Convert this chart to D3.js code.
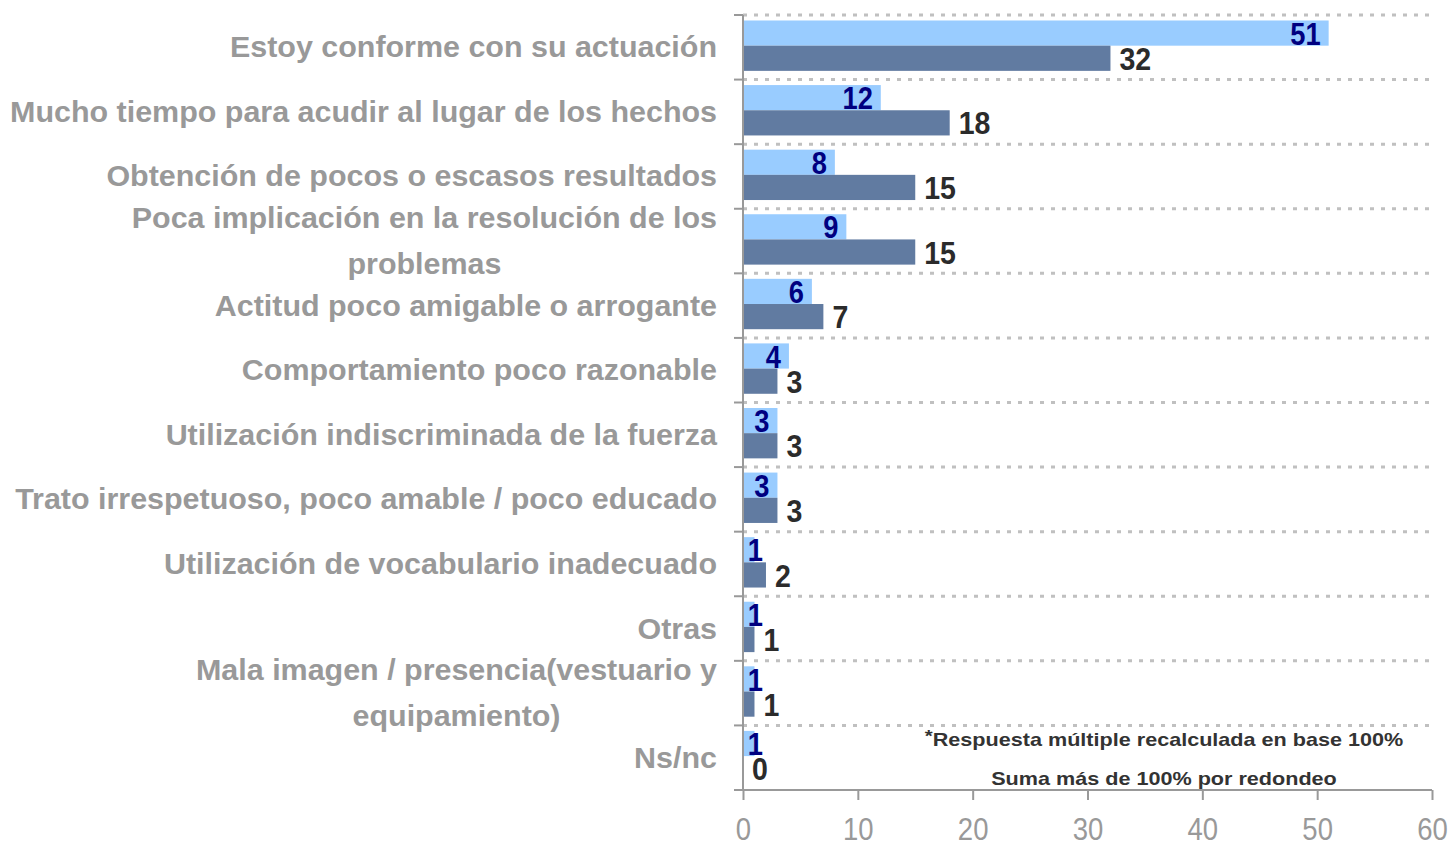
<!DOCTYPE html>
<html>
<head>
<meta charset="utf-8">
<script src="https://cdn.jsdelivr.net/npm/d3@7"></script>
<style>
  body { margin: 0; background: #fff; }
  text { font-family: "Liberation Sans", Arial, sans-serif; }
</style>
</head>
<body>
<svg id="chart" width="1450" height="845"></svg>
<script>
// categories, top to bottom ("\n" = line break in the label)
const categories = [
  "Estoy conforme con su actuación",
  "Mucho tiempo para acudir al lugar de los hechos",
  "Obtención de pocos o escasos resultados",
  "Poca implicación en la resolución de los\nproblemas",
  "Actitud poco amigable o arrogante",
  "Comportamiento poco razonable",
  "Utilización indiscriminada de la fuerza",
  "Trato irrespetuoso, poco amable / poco educado",
  "Utilización de vocabulario inadecuado",
  "Otras",
  "Mala imagen / presencia(vestuario y\nequipamiento)",
  "Ns/nc"
];
const seriesLight = [51, 12, 8, 9, 6, 4, 3, 3, 1, 1, 1, 1];
const seriesDark = [32, 18, 15, 15, 7, 3, 3, 3, 2, 1, 1, 0];
const xTicks = [0, 10, 20, 30, 40, 50, 60];
const notes = ["Respuesta múltiple recalculada en base 100%", "Suma más de 100% por redondeo"];

const svg = d3.select("#chart");

const x = d3.scaleLinear().domain([0, 60]).range([743, 1432]);
const y = d3.scaleBand().domain(categories).range([15, 790]);
const bw = y.bandwidth();
const barH = bw * 0.39;
const barOff = bw * 0.085;

// place a text and stretch/squeeze it horizontally by k
function squeezed(sel, px, py, k) {
  return sel.attr("transform", "translate(" + px + "," + py + ") scale(" + k + ",1)");
}

// dotted gridlines at category boundaries
svg.append("g")
  .selectAll("line")
  .data(categories)
  .join("line")
  .attr("x1", x(0))
  .attr("x2", x(60))
  .attr("y1", (d) => y(d))
  .attr("y2", (d) => y(d))
  .attr("stroke", "#c0c0c0")
  .attr("stroke-width", 3)
  .attr("stroke-dasharray", "4,7");

// bars
svg.append("g")
  .selectAll("rect")
  .data(categories)
  .join("rect")
  .attr("x", x(0))
  .attr("y", (d) => y(d) + barOff)
  .attr("width", (d, i) => x(seriesLight[i]) - x(0))
  .attr("height", barH)
  .attr("fill", "#99ccff");

svg.append("g")
  .selectAll("rect")
  .data(categories)
  .join("rect")
  .attr("x", x(0))
  .attr("y", (d) => y(d) + barOff + barH)
  .attr("width", (d, i) => x(seriesDark[i]) - x(0))
  .attr("height", barH)
  .attr("fill", "#617ba1");

// y axis line and ticks
const yAxis = svg.append("g").attr("stroke", "#999").attr("stroke-width", 2);
yAxis.append("line").attr("x1", x(0)).attr("x2", x(0)).attr("y1", 15).attr("y2", 790);
yAxis.selectAll("line.tk")
  .data(categories)
  .join("line")
  .attr("class", "tk")
  .attr("x1", x(0) - 9)
  .attr("x2", x(0))
  .attr("y1", (d) => y(d))
  .attr("y2", (d) => y(d));

// x axis
const xAxis = svg.append("g").attr("transform", "translate(0,790)")
  .call(d3.axisBottom(x).tickValues(xTicks).tickSize(10).tickSizeOuter(0).tickFormat(d3.format("d")));
xAxis.select(".domain").attr("stroke", "#999").attr("stroke-width", 2).attr("d", "M" + (x(0) - 9) + ",0H" + x(60));
xAxis.selectAll(".tick line").attr("stroke", "#999").attr("stroke-width", 2);
xAxis.selectAll(".tick text").each(function () {
  const t = d3.select(this);
  t.attr("y", 0).attr("dy", null);
  squeezed(t, 0, 50, 0.86);
})
  .attr("fill", "#999")
  .attr("font-size", 32)
  .attr("font-family", "'Liberation Sans', Arial, sans-serif");

// category labels
categories.forEach((c, i) => {
  const lines = c.split("\n");
  const cy = y(c) + bw / 2;
  const lh = 46;
  const t = svg.append("text")
    .attr("font-size", 29)
    .attr("font-weight", "bold")
    .attr("fill", "#999");
  squeezed(t, 717, cy - (lines.length - 1) * lh / 2 + 10, 1.05);
  lines.forEach((l, j) => {
    t.append("tspan").attr("y", j * lh).text(l);
  });
  if (lines.length === 1) {
    t.attr("text-anchor", "end").selectAll("tspan").attr("x", 0);
  } else {
    // lines centred on each other, block right aligned
    const w = t.select("tspan").node().getComputedTextLength();
    t.attr("text-anchor", "middle").selectAll("tspan").attr("x", -w / 2);
  }
});

// value labels
categories.forEach((c, i) => {
  const vl = seriesLight[i];
  const tl = svg.append("text")
    .attr("text-anchor", "end")
    .attr("font-size", 31)
    .attr("font-weight", "bold")
    .attr("fill", "#000080")
    .text(vl);
  squeezed(tl, Math.max(x(vl) - 8, x(0) + 20), y(c) + barOff + barH - 1, 0.88);

  const vd = seriesDark[i];
  const td = svg.append("text")
    .attr("font-size", 31)
    .attr("font-weight", "bold")
    .attr("fill", "#2b2b2b")
    .text(vd);
  squeezed(td, x(vd) + 9, y(c) + barOff + 2 * barH - 1, 0.92);
});

// notes
const n1 = svg.append("text").attr("font-size", 18).attr("font-weight", "bold").attr("fill", "#333")
  .attr("text-anchor", "middle");
n1.append("tspan").attr("font-size", 17).attr("dy", -4).text("*");
n1.append("tspan").attr("dy", 4).text(notes[0]);
squeezed(n1, 1164, 746, 1.2);
const n2 = svg.append("text").attr("font-size", 18).attr("font-weight", "bold").attr("fill", "#333")
  .attr("text-anchor", "middle").text(notes[1]);
squeezed(n2, 1164, 785, 1.2);
</script>
</body>
</html>
